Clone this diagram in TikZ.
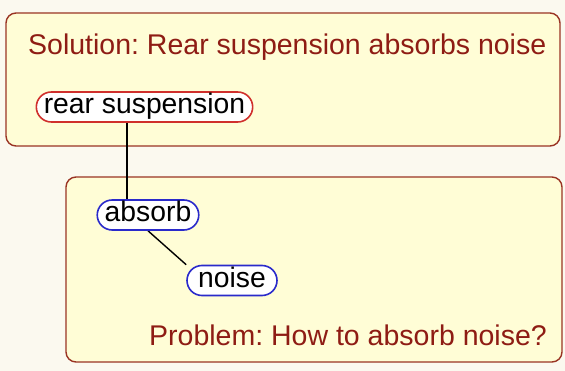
\documentclass[tikz,border=0pt]{standalone}
\usepackage{fontspec}
\setmainfont{Liberation Sans}
\usetikzlibrary{backgrounds}
\pgfdeclarelayer{links}
\pgfsetlayers{background,links,main}
\definecolor{pagecream}{HTML}{FBF9EF}
\definecolor{boxfill}{HTML}{FFFDD6}
\definecolor{boxedge}{HTML}{9A3424}
\definecolor{titlered}{HTML}{8E1C14}
\definecolor{conceptred}{HTML}{D0302C}
\definecolor{conceptblue}{HTML}{2A2ACB}
\frenchspacing
\tikzset{
  frame/.style={draw=boxedge, fill=boxfill, line width=1.4pt, rounded corners=10pt},
  title/.style={anchor=base west, inner sep=0pt, text=titlered, font=\fontsize{28.5}{32}\selectfont},
  concept/.style={draw, fill=white, line width=1.6pt, rounded corners=15pt,
    inner xsep=7.5pt, inner ysep=2pt, text height=20pt, text depth=6pt,
    font=\fontsize{28.3}{32}\selectfont},
  redconcept/.style={concept, draw=conceptred},
  blueconcept/.style={concept, draw=conceptblue},
  link/.style={draw=black, line width=1.4pt}
}
\begin{document}
\begin{tikzpicture}[x=1pt, y=-1pt]
  \begin{pgfonlayer}{background}
    \fill[pagecream] (0,0) rectangle (565,371);
    \path[frame] (6,13) rectangle (560,146);
    \path[frame] (66,177) rectangle (562,362);
  \end{pgfonlayer}
  \useasboundingbox (0,0) rectangle (565,371);

  \node[title] (soltitle) at (28,55) {Solution: Rear suspension absorbs noise};
  \node[title] (probtitle) at (149,345) {Problem: How to absorb noise?};

  \node[redconcept] (rs) at (144.5,107) {rear suspension};
  \node[blueconcept] (ab) at (148,215) {absorb};
  \node[blueconcept, minimum width=90pt] (ns) at (232,280.5) {noise};

  \begin{pgfonlayer}{links}
    \draw[link] ([xshift=-21pt]ab.north) -- ([xshift=-21pt]ab.north |- rs.south);
    \draw[link] (ab.south) -- (ns.north west);
  \end{pgfonlayer}
\end{tikzpicture}
\end{document}
